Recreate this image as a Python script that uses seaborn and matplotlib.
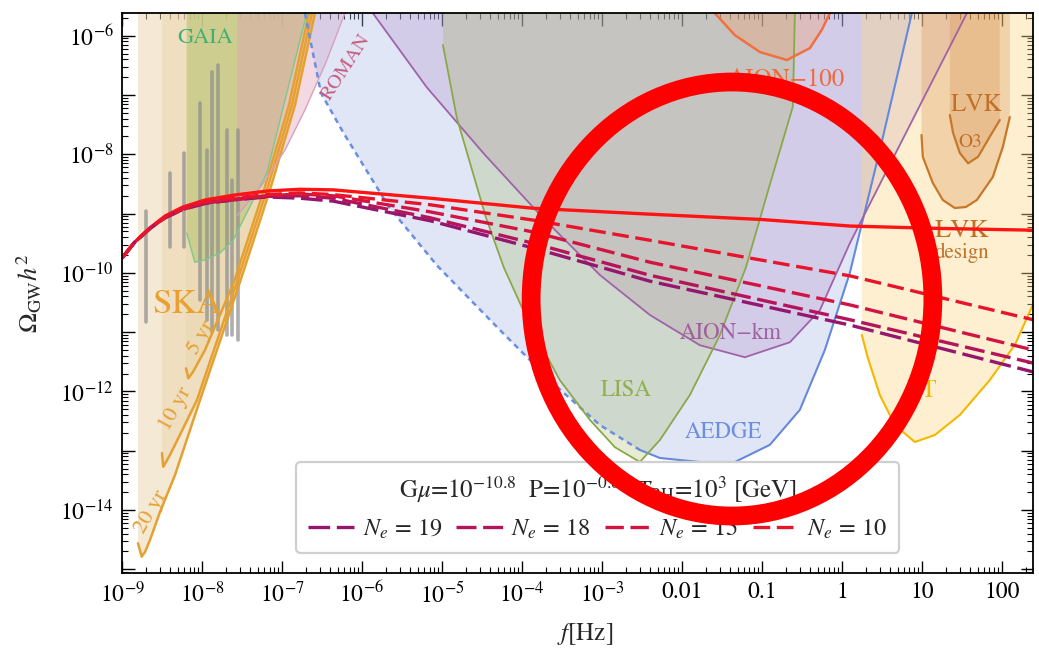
import numpy as np
import matplotlib
matplotlib.use("Agg")
import matplotlib.pyplot as plt
from matplotlib.patches import Ellipse
import seaborn as sns

# ---------------- data: log10 f [Hz] and log10 Omega_GW h^2 ----------------
# cosmic-string spectra
gw_logf = [-9.0, -8.84, -8.65, -8.46, -8.24, -7.96, -7.61, -7.19, -6.78, -6.36,
           -5.15, -3.86, -2.40, -1.00, 0.10, 1.20, 2.39]
gw_std = [-9.75, -9.48, -9.24, -9.04, -8.89, -8.77, -8.69, -8.62, -8.59, -8.60,
          -8.74, -8.91, -9.01, -9.10, -9.21, -9.25, -9.28]
ne_logf = [-9.0, -8.84, -8.65, -8.46, -8.24, -7.96, -7.61, -7.19, -6.78, -6.36,
           -5.15, -3.86, -2.40, 0.10, 2.39]
gw_ne10 = [-9.75, -9.48, -9.25, -9.06, -8.91, -8.80, -8.74, -8.68, -8.65, -8.68,
           -8.85, -9.11, -9.45, -10.05, -10.79]
gw_ne15 = [-9.75, -9.48, -9.25, -9.06, -8.92, -8.81, -8.76, -8.70, -8.67, -8.70,
           -8.97, -9.31, -9.82, -10.54, -11.30]
gw_ne18 = [-9.75, -9.48, -9.25, -9.07, -8.93, -8.82, -8.77, -8.71, -8.70, -8.74,
           -9.07, -9.50, -10.04, -10.79, -11.52]
gw_ne19 = [-9.75, -9.48, -9.25, -9.07, -8.93, -8.83, -8.77, -8.72, -8.74, -8.79,
           -9.12, -9.58, -10.14, -10.88, -11.67]
ne_values = [19, 18, 15, 10]

# SKA power-law sensitivity curves (20, 10, 5 yr)
ska20_fmin = -8.8
ska20_logf = [-8.80, -8.754, -8.7125, -8.65, -8.525, -8.3375, -8.025, -7.525, -7.15, -6.8375, -6.5875]
ska20_logo = [-14.56, -14.786, -14.707, -14.505, -14.033, -13.41, -12.145, -10.154, -8.602, -7.169, -5.622]
ska10_fmin = -8.5
ska10_logf = [-8.50, -8.484, -8.40, -8.275, -8.0625, -7.5625, -7.1875, -6.875, -6.625]
ska10_logo = [-13.04, -13.27, -13.07, -12.73, -12.145, -10.154, -8.602, -7.169, -5.622]
ska5_fmin = -8.2
ska5_logf = [-8.20, -8.171, -8.1125, -7.9625, -7.60, -7.225, -6.9125, -6.6625]
ska5_logo = [-11.61, -11.777, -11.671, -11.30, -10.154, -8.602, -7.169, -5.622]

# NANOGrav violins: frequency, upper end, lower end
nano_logf = [-8.70, -8.40, -8.23, -8.025, -7.94, -7.88, -7.80, -7.69, -7.63, -7.55]
nano_hi = [-8.96, -8.32, -7.98, -7.13, -7.93, -6.61, -6.49, -7.59, -8.43, -7.59]
nano_lo = [-10.83, -9.57, -9.57, -10.46, -10.80, -11.00, -10.96, -11.05, -11.05, -11.13]

gaia_fmin = -8.19
gaia_logf = [-8.19, -8.09, -7.96, -7.78, -7.61, -7.53, -7.19, -6.69]
gaia_logo = [-9.33, -9.82, -9.78, -9.67, -9.45, -9.23, -8.32, -5.62]

roman_fmin = -7.56
roman_logf = [-7.56, -7.525, -7.40, -7.25, -6.9625, -6.7125, -6.4625, -6.2125]
roman_logo = [-9.03, -8.98, -8.77, -8.52, -7.93, -7.25, -6.49, -5.62]

aedge_logf = [-6.7125, -6.5125, -6.2375, -5.6625, -5.056, -4.275, -3.5875, -3.025, -2.525,
              -2.275, -1.775, -1.3375, -0.90, -0.525, -0.2125, 0.10, 0.475, 0.875]
aedge_logo = [-5.622, -6.966, -7.624, -8.889, -9.884, -10.964, -11.892, -12.566, -12.987,
              -13.122, -13.19, -13.19, -12.90, -12.31, -11.30, -10.0, -7.93, -5.622]
aedge_solid_from = -2.525

aionkm_logf = [-5.8625, -5.1875, -4.4625, -3.7375, -3.025, -2.40, -1.775, -1.2125, -0.65,
               -0.275, 0.10, 0.85, 1.5625]
aionkm_logo = [-5.622, -6.874, -8.01, -9.072, -10.036, -10.71, -11.22, -11.423,
               -11.17, -10.63, -9.50, -7.51, -5.622]

lisa_fmin = -4.9875
lisa_logf = [-4.9875, -4.8125, -4.45, -4.225, -3.90, -3.525, -3.15, -2.8375, -2.525,
             -2.275, -1.90, -1.525, -1.20, -0.90, -0.6125, -0.5875]
lisa_logo = [-6.155, -7.392, -9.065, -9.913, -10.88, -11.81, -12.48, -12.94, -13.19,
             -12.82, -12.06, -11.05, -9.91, -8.51, -7.195, -5.622]

aion100_logf = [-1.5875, -1.3375, -1.025, -0.6875, -0.40, -0.25, -0.15]
aion100_logo = [-5.622, -5.99, -6.275, -6.41, -6.21, -5.90, -5.622]

et_fmin = 0.25
et_logf = [0.25, 0.325, 0.475, 0.6625, 0.9125, 1.1625, 1.475, 1.85, 2.1625, 2.3875, 2.54]
et_logo = [-11.047, -11.435, -12.06, -12.566, -12.853, -12.735, -12.397, -11.807, -11.216,
           -10.542, -10.205]

lvk_fmin, lvk_fmax = 0.996, 2.10
lvk_logf = [0.996, 1.0125, 1.1375, 1.2625, 1.4125, 1.55, 1.6875, 1.8875, 2.0125, 2.10]
lvk_logo = [-7.674, -8.045, -8.484, -8.771, -8.906, -8.889, -8.771, -8.383, -7.877, -7.371]
o3_fmin, o3_fmax = 1.35, 1.975
o3_logf = [1.35, 1.391, 1.475, 1.579, 1.704, 1.85, 1.975]
o3_logo = [-7.337, -7.641, -7.978, -8.152, -8.04, -7.703, -7.422]

xtick_exp = list(range(-9, 3))
xtick_labels = ["$10^{-9}$", "$10^{-8}$", "$10^{-7}$", "$10^{-6}$", "$10^{-5}$", "$10^{-4}$",
                "$10^{-3}$", "0.01", "0.1", "1", "10", "100"]
ytick_exp = list(range(-15, -5))
ytick_labels = ["", "$10^{-14}$", "", "$10^{-12}$", "", "$10^{-10}$", "", "$10^{-8}$", "", "$10^{-6}$"]

XLIM = (-9.0, 2.39)
YLIM = (-15.067, -5.622)
YTOP = -5.0

# ---------------- style ----------------
sns.set_theme(style="ticks")
plt.rcParams["font.family"] = ["STIXGeneral", "DejaVu Serif"]
plt.rcParams["mathtext.fontset"] = "stix"
plt.rcParams["axes.linewidth"] = 1.3
plt.rcParams["axes.edgecolor"] = "black"

fig = plt.figure(figsize=(10.39, 6.53), dpi=100)
ax = fig.add_axes([0.11742, 0.12205, 0.87681, 0.85758])
ax.set_xscale("log")
ax.set_yscale("log")


def P(a):
    return 10.0 ** np.asarray(a, dtype=float)


def region(lx, ly, fill, alpha, line, lw=1.3, fmin=None, fmax=None, draw=True):
    """Sensitivity region: area above a curve, closed to the top of the plot."""
    xs = list(lx)
    ys = list(ly)
    px = ([fmin] if fmin is not None else [xs[0]]) + xs + ([fmax] if fmax is not None else [xs[-1]])
    py = [YTOP] + ys + [YTOP]
    ax.fill(P(px), P(py), color=fill, alpha=alpha, lw=0, zorder=1)
    if draw:
        ax.plot(P(xs), P(ys), color=line, lw=lw, zorder=2.5, solid_capstyle="round")


# SKA
ska_col = "#e6a030"
for fmin, lx, ly in [(ska20_fmin, ska20_logf, ska20_logo),
                     (ska10_fmin, ska10_logf, ska10_logo),
                     (ska5_fmin, ska5_logf, ska5_logo)]:
    region(lx, ly, "#ebd5ad", 0.5, ska_col, lw=1.8, fmin=fmin)

# GAIA and ROMAN
region(gaia_logf, gaia_logo, "#a8c060", 0.45, "#7cc88c", lw=1.0, fmin=gaia_fmin)
region(roman_logf, roman_logo, "#e0a0b8", 0.4, "#d8a0bc", lw=1.0, fmin=roman_fmin)

# AEDGE (dashed low-frequency extension, solid core)
region(aedge_logf, aedge_logo, "#a8b8e8", 0.35, "#6688dd", draw=False)
ae_x = np.array(aedge_logf)
ae_y = np.array(aedge_logo)
m_d = ae_x <= aedge_solid_from
m_s = ae_x >= aedge_solid_from
ax.plot(P(ae_x[m_d]), P(ae_y[m_d]), color="#6a8ee0", lw=1.8, ls=(0, (2.2, 1.8)), zorder=2.5)
ax.plot(P(ae_x[m_s]), P(ae_y[m_s]), color="#6688dd", lw=1.5, zorder=2.5)

region(aionkm_logf, aionkm_logo, "#b890c8", 0.3, "#a062a8", lw=1.3)
region(lisa_logf, lisa_logo, "#a0b050", 0.25, "#8aa84a", lw=1.3, fmin=lisa_fmin)
region(aion100_logf, aion100_logo, "#f0a070", 0.35, "#f07040", lw=1.8)
region(et_logf, et_logo, "#fbd98a", 0.4, "#f5b800", lw=1.5, fmin=et_fmin, fmax=3.0)
region(lvk_logf, lvk_logo, "#d89050", 0.3, "#c87828", lw=1.6, fmin=lvk_fmin, fmax=lvk_fmax)
region(o3_logf, o3_logo, "#d89050", 0.3, "#c87828", lw=1.6, fmin=o3_fmin, fmax=o3_fmax)

# NANOGrav violins
for lf, hi, lo in zip(nano_logf, nano_hi, nano_lo):
    ax.plot(P([lf, lf]), P([hi, lo]), color="#8c8c8c", lw=2.6, alpha=0.7,
            solid_capstyle="round", zorder=2)

# region labels
lab = dict(zorder=3, ha="center", va="center")
ax.text(P(-8.1875), P(-10.543), "SKA", color="#e8a030", fontsize=25, **lab)
ax.text(P(-7.9625), P(-6.039), "GAIA", color="#40b070", fontsize=16, **lab)
ax.text(P(-8.6375), P(-14.03), "20 yr", color=ska_col, fontsize=16, rotation=60, **lab)
ax.text(P(-8.325), P(-12.295), "10 yr", color=ska_col, fontsize=16, rotation=61, **lab)
ax.text(P(-8.0125), P(-11.098), "5 yr", color=ska_col, fontsize=16, rotation=60, **lab)
ax.text(P(-6.2), P(-6.528), "ROMAN", color="#c85a80", fontsize=14.5, rotation=57, **lab)
ax.text(P(-0.7), P(-6.75), "AION\u2212100", color="#f06a3c", fontsize=18, **lab)
ax.text(P(-1.3875), P(-11.014), "AION\u2212km", color="#a060a0", fontsize=16.5, **lab)
ax.text(P(-2.7), P(-11.975), "LISA", color="#90b050", fontsize=16.5, **lab)
ax.text(P(-1.475), P(-12.683), "AEDGE", color="#6a8ee0", fontsize=16.5, **lab)
ax.text(P(1.6875), P(-7.17), "LVK", color="#c07028", fontsize=18, **lab)
ax.text(P(1.6), P(-7.794), "O3", color="#c07028", fontsize=14, **lab)
ax.text(P(1.5), P(-9.295), "LVK", color="#c07028", fontsize=19, **lab)
ax.text(P(1.5), P(-9.666), "design", color="#c07028", fontsize=15, **lab)
ax.text(P(1.0), P(-11.99), "ET", color="#f5b800", fontsize=18, **lab)

# cosmic-string spectra
sns.lineplot(x=P(gw_logf), y=P(gw_std), color="#ff1414", lw=2.4, ax=ax,
             estimator=None, zorder=4, legend=False)
ne_series = {19: gw_ne19, 18: gw_ne18, 15: gw_ne15, 10: gw_ne10}
ne_colors = {19: "#95166f", 18: "#b4145a", 15: "#d21442", 10: "#e8142c"}
ne_dashes = {19: (6.5, 2.0), 18: (6.0, 2.0), 15: (5.5, 2.0), 10: (5.0, 2.0)}
handles = []
for ne in ne_values:
    sns.lineplot(x=P(ne_logf), y=P(ne_series[ne]), color=ne_colors[ne], lw=2.4, ax=ax,
                 estimator=None, zorder=4, legend=False, linestyle=(0, ne_dashes[ne]))
    handles.append(ax.lines[-1])

leg = ax.legend(handles=handles, labels=[f"$N_e$ = {n}" for n in ne_values],
                title="G$\\mu$=10$^{-10.8}$  P=10$^{-0.82}$ $T_{\\rm RH}$=10$^{3}$ [GeV]",
                ncol=4, loc="lower center", bbox_to_anchor=(0.522, 0.036),
                borderaxespad=0.0,
                fontsize=17.5, title_fontsize=18, frameon=True, fancybox=True,
                framealpha=1, edgecolor="#cfcfcf", handlelength=1.9,
                columnspacing=0.6, handletextpad=0.35, borderpad=0.5)
leg.get_frame().set_linewidth(1.6)
leg.set_zorder(6)

# axes
ax.set_xlim(P(XLIM[0]), P(XLIM[1]))
ax.set_ylim(P(YLIM[0]), P(YLIM[1]))
ax.set_xticks(P(xtick_exp))
ax.set_xticklabels(xtick_labels)
ax.set_yticks(P(ytick_exp))
ax.set_yticklabels(ytick_labels)
ax.xaxis.set_minor_locator(matplotlib.ticker.LogLocator(base=10, subs=np.arange(2, 10), numticks=100))
ax.yaxis.set_minor_locator(matplotlib.ticker.LogLocator(base=10, subs=np.arange(2, 10), numticks=100))
ax.xaxis.set_minor_formatter(matplotlib.ticker.NullFormatter())
ax.yaxis.set_minor_formatter(matplotlib.ticker.NullFormatter())
ax.tick_params(which="both", direction="in", top=True, right=True, labelsize=17,
               colors="black")
ax.tick_params(which="major", length=9, width=1.0, pad=6)
ax.tick_params(which="minor", length=4, width=0.8)
ax.set_xlabel("$f$[Hz]", fontsize=18)
ax.set_ylabel("$\\Omega_{\\rm GW}h^2$", fontsize=19)
ax.xaxis.set_label_coords(0.508, -0.085)
ax.yaxis.set_label_coords(-0.085, 0.5)
for s in ax.spines.values():
    s.set_zorder(7)

# highlight ring
ring = Ellipse((0.6696, 0.4898), width=0.441, height=0.775, transform=ax.transAxes,
               fill=False, edgecolor="#ff0000", lw=13.5, zorder=10, clip_on=False)
ax.add_patch(ring)

fig.savefig("out.png", dpi=100)
